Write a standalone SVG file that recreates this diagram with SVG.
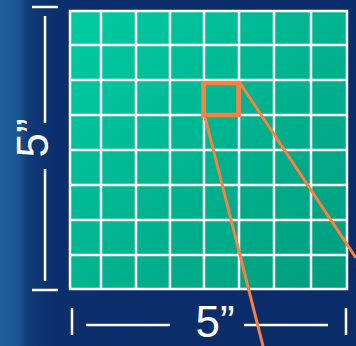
<svg xmlns="http://www.w3.org/2000/svg" width="356" height="346" viewBox="0 0 356 346">
  <defs>
    <linearGradient id="bg" x1="0" y1="0" x2="1" y2="0">
      <stop offset="0" stop-color="#1F5E9E"/>
      <stop offset="0.05" stop-color="#1A5592"/>
      <stop offset="0.08" stop-color="#0F3A76"/>
      <stop offset="0.15" stop-color="#0B2F6C"/>
      <stop offset="1" stop-color="#0A2C68"/>
    </linearGradient>
    <linearGradient id="teal" x1="0" y1="0" x2="1" y2="1">
      <stop offset="0" stop-color="#00CCA3"/>
      <stop offset="1" stop-color="#009C7D"/>
    </linearGradient>
    <style>
      .grid { stroke: #FFFFFF; stroke-width: 2.5; fill: none; }
      .dim { stroke: #FFFFFF; stroke-width: 2.5; fill: none; }
      .lbl { font-family: "Liberation Sans", Arial, sans-serif; font-size: 44px; fill: #FFFFFF; text-anchor: middle; }
      .hl { stroke: #FF7F40; fill: none; }
    </style>
  </defs>
  <rect width="356" height="346" fill="url(#bg)"/>
  <g id="grid">
    <rect x="70" y="11" width="277" height="278" fill="url(#teal)"/>
    <path class="grid" d="M101 11V289M136 11V289M170 11V289M204 11V289M239 11V289M274 11V289M311 11V289M70 45H347M70 80H347M70 115H347M70 150H347M70 185H347M70 220H347M70 255H347"/>
    <rect class="grid" x="70" y="11" width="277" height="278"/>
  </g>
  <g id="dim-left">
    <path class="dim" d="M32 7H58M45 16V123M45 169V281M32 290H58"/>
    <text class="lbl" transform="translate(48,138) rotate(-90)" x="0" y="0">5”</text>
  </g>
  <g id="dim-bottom">
    <path class="dim" d="M72 308V335M86 325H170M244 325H328M346 308V335"/>
    <text class="lbl" x="215" y="337">5”</text>
  </g>
  <g id="highlight">
    <rect class="hl" x="203.5" y="83" width="35" height="32" stroke-width="4.5"/>
  </g>
  <g id="connectors">
    <line class="hl" x1="205" y1="117" x2="263" y2="346" stroke-width="3"/>
    <line class="hl" x1="240" y1="83" x2="356" y2="258" stroke-width="3"/>
  </g>
</svg>
